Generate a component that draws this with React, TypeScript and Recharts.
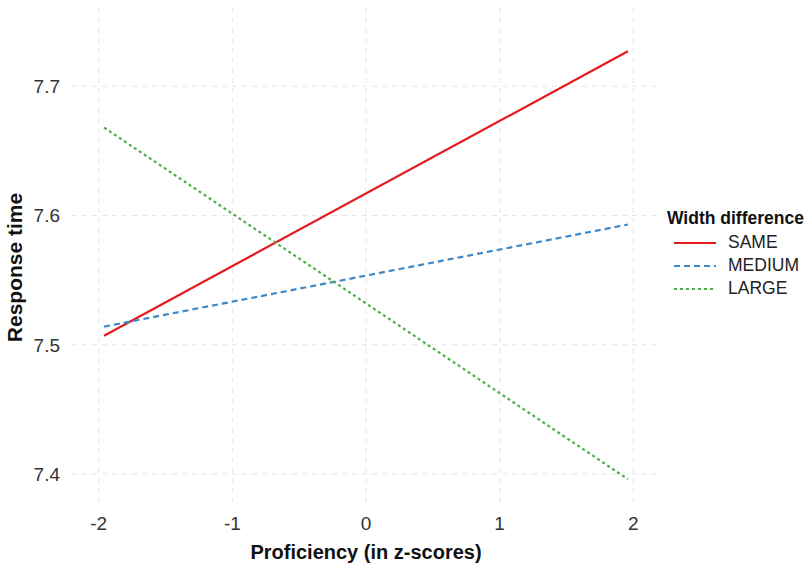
import { CartesianGrid, Line, LineChart, XAxis, YAxis } from "recharts";

const proficiency = [-1.96, 1.96];
const same = [7.507, 7.727];
const medium = [7.514, 7.593];
const large = [7.668, 7.396];
const xTicks = [-2, -1, 0, 1, 2];
const yTicks = [7.4, 7.5, 7.6, 7.7];

const data = proficiency.map((x, i) => ({
  x,
  SAME: same[i],
  MEDIUM: medium[i],
  LARGE: large[i],
}));

const series = [
  { key: "SAME", color: "#e41a1c", dash: undefined as string | undefined },
  { key: "MEDIUM", color: "#3f88c8", dash: "6 4" },
  { key: "LARGE", color: "#4daf4a", dash: "3 3" },
];

const font = "'Liberation Sans', Arial, Helvetica, sans-serif";

function LegendBox() {
  return (
    <div style={{ position: "absolute", left: 660, top: 205, width: 147, fontFamily: font }}>
      <div style={{ fontWeight: "bold", fontSize: 17.5, color: "#111", marginLeft: 7, height: 26, lineHeight: "26px" }}>
        Width difference
      </div>
      {series.map((s) => (
        <div key={s.key} style={{ display: "flex", alignItems: "center", height: 23 }}>
          <svg width={54} height={10} style={{ marginLeft: 14 }}>
            <line x1={0} y1={5} x2={42} y2={5} stroke={s.color} strokeWidth={2} strokeDasharray={s.dash} />
          </svg>
          <span style={{ fontSize: 17.5, color: "#222" }}>{s.key}</span>
        </div>
      ))}
    </div>
  );
}

export default function App() {
  return (
    <div style={{ position: "absolute", left: 0, top: 0, width: 807, height: 567, background: "#fff" }}>
      <LineChart width={807} height={567} data={data} margin={{ top: 8, right: 147, bottom: 0, left: 0 }}>
        <CartesianGrid stroke="#e6e6e6" strokeDasharray="5 5" horizontalValues={yTicks} verticalValues={xTicks} />
        <XAxis
          dataKey="x"
          type="number"
          domain={[-2.2, 2.2]}
          ticks={xTicks}
          tickLine={false}
          axisLine={false}
          height={60}
          tick={{ fontSize: 19, fill: "#333", fontFamily: font }}
          tickMargin={4}
          label={{
            value: "Proficiency (in z-scores)",
            position: "insideBottom",
            offset: 8,
            style: { fontSize: 20, fontWeight: "bold", fill: "#111", fontFamily: font },
          }}
        />
        <YAxis
          type="number"
          domain={[7.3745, 7.7605]}
          ticks={yTicks}
          allowDataOverflow
          tickLine={false}
          axisLine={false}
          width={72}
          tick={{ fontSize: 19, fill: "#333", fontFamily: font }}
          tickMargin={6}
          tickFormatter={(v: number) => v.toFixed(1)}
          label={{
            value: "Response time",
            angle: -90,
            position: "insideLeft",
            offset: 15,
            dy: 10,
            style: { textAnchor: "middle", fontSize: 21, fontWeight: "bold", fill: "#111", fontFamily: font },
          }}
        />
        {series.map((s) => (
          <Line
            key={s.key}
            dataKey={s.key}
            stroke={s.color}
            strokeWidth={2.2}
            strokeDasharray={s.dash}
            dot={false}
            activeDot={false}
            isAnimationActive={false}
            type="linear"
          />
        ))}
      </LineChart>
      <LegendBox />
    </div>
  );
}
